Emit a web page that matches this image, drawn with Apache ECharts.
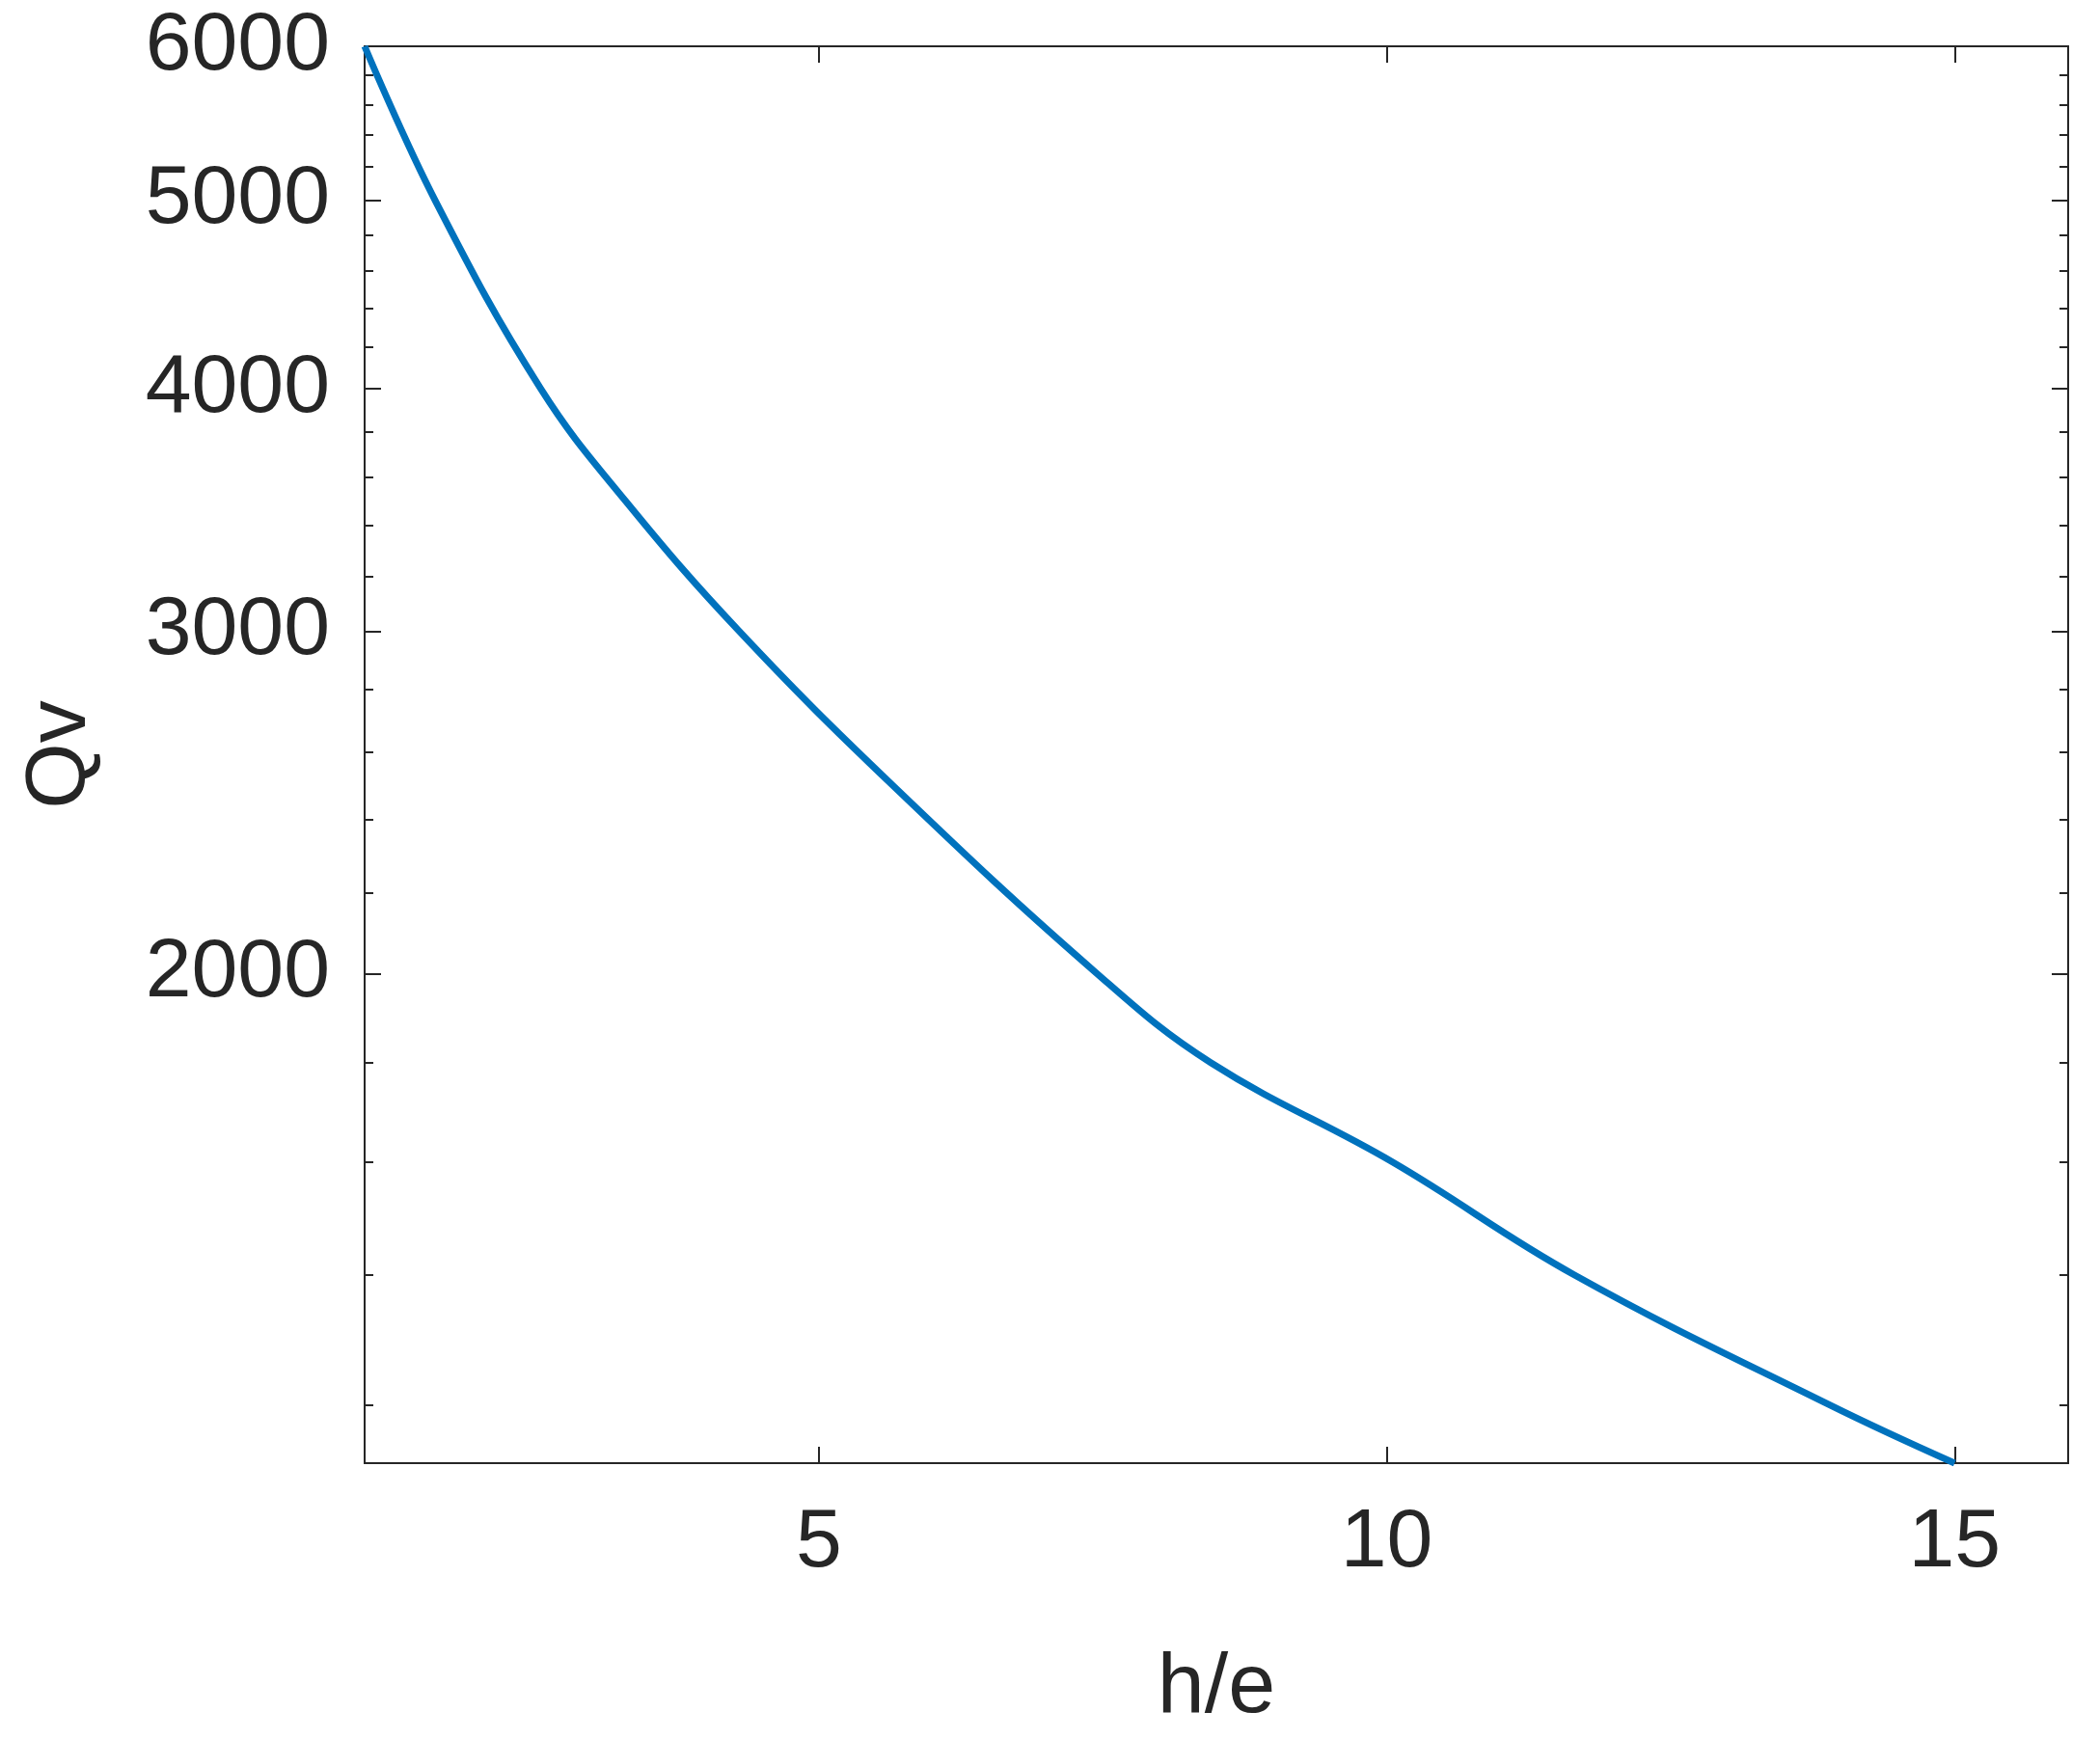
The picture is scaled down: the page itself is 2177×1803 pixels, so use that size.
<!DOCTYPE html>
<html><head><meta charset="utf-8">
<script src="https://cdn.jsdelivr.net/npm/echarts@6/dist/echarts.min.js"></script>
<style>html,body{margin:0;padding:0;background:#fff}#c{width:2177px;height:1803px}</style>
</head><body><div id="c"></div>
<script>
const hOverE = [1, 1.62, 2.55, 3.3, 4.3, 5.65, 7.45, 8.45, 10.05, 11.65, 13.9, 15];
const qv = [6000, 5000, 4000, 3500, 3000, 2500, 2000, 1800, 1600, 1400, 1200, 1120];
const yMajor = [2000, 3000, 4000, 5000, 6000];
const yMinor = [1200,1400,1600,1800,2200,2400,2600,2800,3200,3400,3600,3800,4200,4400,4600,4800,5200,5400,5600,5800];
const xTicks = [5, 10, 15];
const txt = '#262626', font = 'Liberation Sans, Arial, sans-serif';
const ch = echarts.init(document.getElementById('c'));
function yAx(pos, ticks, len, labels, name) {
  return {type:'log', logBase:10, min:1120, max:6000, position:pos,
    name: name||'', nameLocation:'middle', nameGap:270, nameTextStyle:{color:txt,fontSize:88,fontFamily:font},
    axisLine:{show:true,lineStyle:{color:txt,width:2}}, splitLine:{show:false}, minorTick:{show:false},
    axisTick:{show:true, inside:true, length:len, customValues:ticks, lineStyle:{color:txt,width:2}},
    axisLabel:{show:labels, customValues:yMajor, formatter:v=>String(Math.round(v)), color:txt, fontSize:86, fontFamily:font, margin:36}};
}
function xAx(pos, labels, name) {
  return {type:'value', min:1, max:16, position:pos,
    name: name||'', nameLocation:'middle', nameGap:190, nameTextStyle:{color:txt,fontSize:88,fontFamily:font},
    axisLine:{show:true,lineStyle:{color:txt,width:2}}, splitLine:{show:false},
    axisTick:{show:true, inside:true, length:17, customValues:xTicks, lineStyle:{color:txt,width:2}},
    axisLabel:{show:labels, customValues:xTicks, color:txt, fontSize:86, fontFamily:font, margin:40}};
}
ch.setOption({
  animation:false,
  grid:{left:378, right:33, top:48, bottom:286},
  xAxis:[xAx('bottom', true, 'h/e'), xAx('top', false)],
  yAxis:[yAx('left', yMajor, 17, true, 'Qv'), yAx('left', yMinor, 9, false),
         yAx('right', yMajor, 17, false), yAx('right', yMinor, 9, false)],
  series:[{type:'line', smooth:0.4, symbol:'none', data:hOverE.map((x,i)=>[x,qv[i]]),
    lineStyle:{color:'#0072BD', width:7}}]
});
</script></body></html>
